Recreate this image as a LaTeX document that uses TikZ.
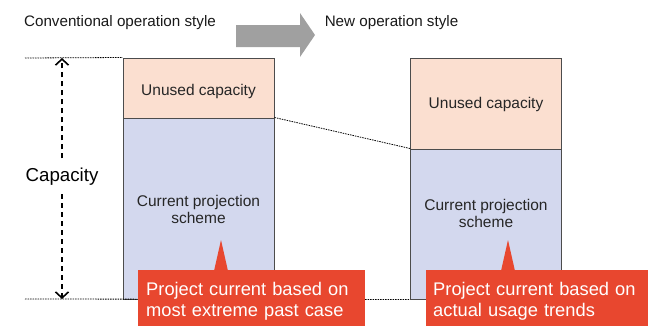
\documentclass[tikz,border=0pt]{standalone}
\usepackage{fontspec}
\setmainfont{Liberation Sans}
\usetikzlibrary{arrows.meta}
\definecolor{freecol}{HTML}{FBDFD0}
\definecolor{usedcol}{HTML}{D3D8EE}
\definecolor{notecol}{HTML}{E8472F}
\definecolor{shiftcol}{HTML}{A0A0A0}
\begin{document}
\begin{tikzpicture}[x=1pt,y=-1pt,
	bar/.style={rectangle,draw=black!70,line width=1pt,minimum width=151pt,inner sep=0pt},
	bartext/.style={align=center,text=black!85,font=\fontsize{15.5}{17}\selectfont},
	note/.style={rectangle,fill=notecol,text=white,align=left,anchor=north west,minimum height=62pt,inner xsep=8pt,font=\fontsize{18.3}{20.7}\selectfont},
	title/.style={anchor=base,text=black!90,font=\fontsize{15.2}{18}\selectfont},
	guide/.style={dash pattern=on 1.5pt off 1pt,line width=0.8pt}]
	\useasboundingbox (0,0) rectangle (648,325);
	% titles and shift arrow
	\node[title] (oldtitle) at (120,26.7) {Conventional operation style};
	\node[title] (newtitle) at (391.5,26.7) {New operation style};
	\fill[shiftcol] (236,25) -- (300,25) -- (300,13) -- (315,35) -- (300,57) -- (300,47) -- (236,47) -- cycle;
	% bars
	\node[bar,fill=freecol,minimum height=60pt] (oldfree) at (198.5,88) {};
	\node[bar,fill=usedcol,minimum height=181pt] (oldused) at (198.5,208.5) {};
	\node[bar,fill=freecol,minimum height=91pt] (newfree) at (486,103.5) {};
	\node[bar,fill=usedcol,minimum height=150pt] (newused) at (486,224) {};
	\node[bartext,anchor=base] (oldfreetext) at (198.5,95) {Unused capacity};
	\node[bartext] (oldusedtext) at (198.5,209.7) {Current projection\\scheme};
	\node[bartext,anchor=base] (newfreetext) at (486,108.3) {Unused capacity};
	\node[bartext] (newusedtext) at (486,213.9) {Current projection\\scheme};
	% guides
	\coordinate (topleft) at (25,58);
	\coordinate (botleft) at (25,299);
	\foreach \from/\to in {topleft/oldfree.north west,botleft/newused.south west,oldused.north east/newused.north west}
	\draw[guide] (\from) -- (\to);
	% capacity
	\coordinate (captop) at (62,58);
	\coordinate (capbot) at (62,299);
	\node[anchor=base,inner ysep=9pt,font=\fontsize{18.7}{20}\selectfont] (cap) at (62,181) {Capacity};
	\foreach \to in {captop,capbot}
	\draw[-{Straight Barb[length=6pt,width=13pt]},line width=1.6pt,dash pattern=on 5pt off 4pt] (cap) -- (\to);
	% notes
	\node[note,minimum width=227pt,text width=211pt] (oldnote) at (138,270) {Project current based on\\most extreme past case};
	\node[note,minimum width=222pt,text width=208pt,inner xsep=7pt] (newnote) at (426,270) {Project current based on\\actual usage trends};
	\fill[notecol] (214,271) -- (221,240) -- (228,271) -- cycle;
	\fill[notecol] (501,271) -- (508,240) -- (515,271) -- cycle;
\end{tikzpicture}
\end{document}
